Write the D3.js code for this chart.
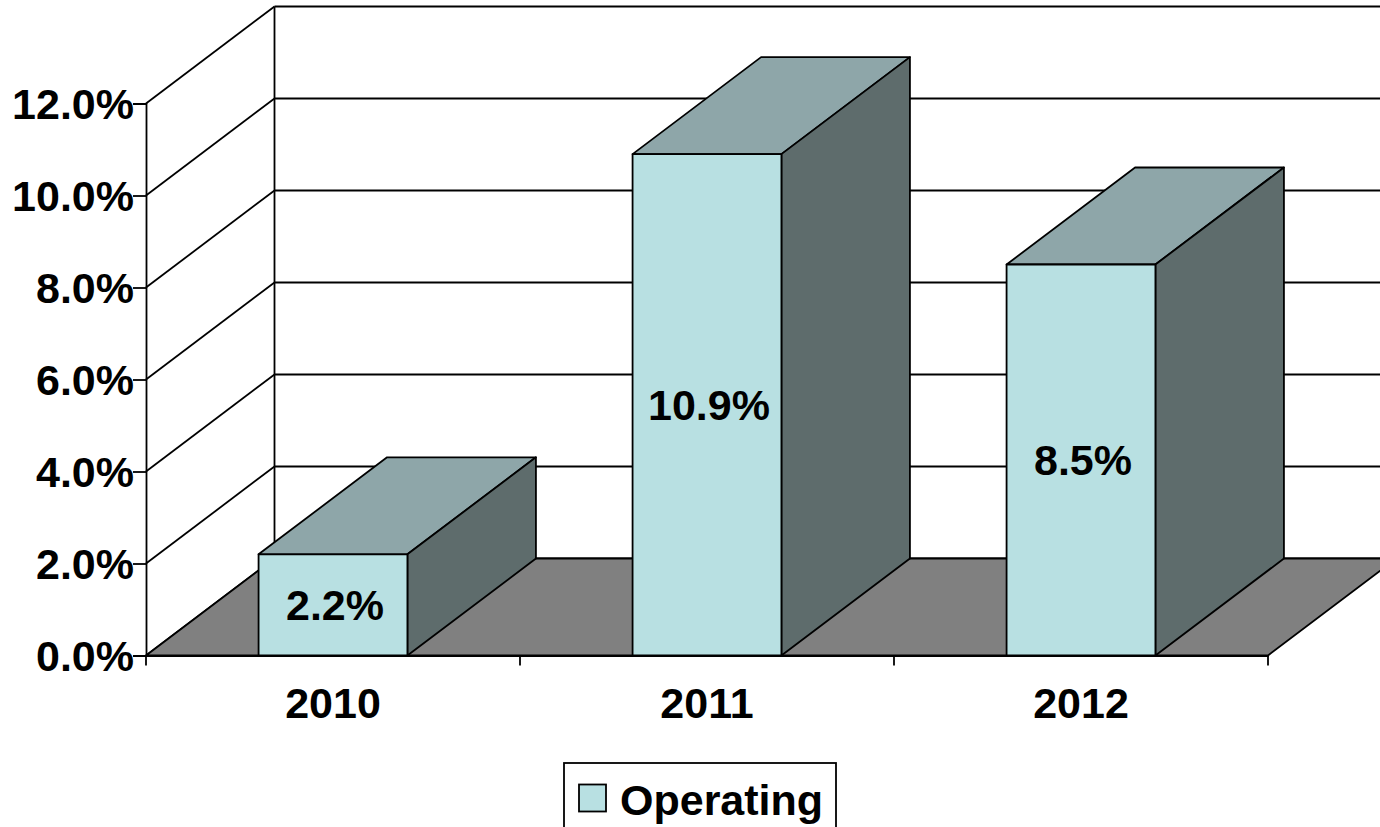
<!DOCTYPE html>
<meta charset="utf-8">
<style>
html, body { margin: 0; padding: 0; background: #fff; overflow: hidden; }
svg { display: block; }
text { font-family: "Liberation Sans", Arial, sans-serif; font-weight: bold; font-size: 43px; fill: #000; }
.grid, .edge, .axis path, .axis line { stroke: #000; stroke-width: 1.8; fill: none; }
.face { stroke: #000; stroke-width: 1.8; stroke-linejoin: round; }
</style>
<svg width="1380" height="827"></svg>
<script src="https://d3js.org/d3.v7.min.js"></script>
<script>

var categories = ["2010", "2011", "2012"];
var operating = [2.2, 10.9, 8.5];
var yTicks = [0, 2, 4, 6, 8, 10, 12];
var seriesName = "Operating";

var colFront = "#b8e0e2", colTop = "#8ea6a9", colSide = "#5e6c6c", colFloor = "#808080";

var svg = d3.select("svg");

var x = d3.scaleBand().domain(categories).range([146, 1268]);
var y = d3.scaleLinear().domain([0, 12]).range([655.5, 103.5]);

// depth of the fake 3D box
var dx = 128.5, dy = -97;
var barW = x.bandwidth() * 0.398;

function pts(a) { return a.map(function(p) { return p.join(","); }).join(" "); }

var x0 = x.range()[0], x1 = x.range()[1];

// side wall and back wall gridlines
svg.selectAll(".grid.side").data(yTicks).enter().append("line")
    .attr("class", "grid side")
    .attr("x1", x0).attr("y1", function(d) { return y(d); })
    .attr("x2", x0 + dx).attr("y2", function(d) { return y(d) + dy; });

svg.selectAll(".grid.back").data(yTicks).enter().append("line")
    .attr("class", "grid back")
    .attr("x1", x0 + dx).attr("y1", function(d) { return y(d) + dy; })
    .attr("x2", x1 + dx).attr("y2", function(d) { return y(d) + dy; });

svg.append("line").attr("class", "edge")
    .attr("x1", x0 + dx).attr("y1", y(0) + dy)
    .attr("x2", x0 + dx).attr("y2", y(12) + dy);

// floor
svg.append("polygon").attr("class", "face")
    .attr("fill", colFloor)
    .attr("points", pts([[x0, y(0)], [x0 + dx, y(0) + dy], [x1 + dx, y(0) + dy], [x1, y(0)]]));

// bars
var bars = svg.selectAll(".bar").data(operating).enter().append("g").attr("class", "bar");

function left(d, i) { return x(categories[i]) + (x.bandwidth() - barW) / 2; }

bars.append("polygon").attr("class", "face").attr("fill", colTop)
    .attr("points", function(d, i) {
      var l = left(d, i), t = y(d);
      return pts([[l, t], [l + dx, t + dy], [l + barW + dx, t + dy], [l + barW, t]]);
    });

bars.append("polygon").attr("class", "face").attr("fill", colSide)
    .attr("points", function(d, i) {
      var r = left(d, i) + barW;
      return pts([[r, y(d)], [r + dx, y(d) + dy], [r + dx, y(0) + dy], [r, y(0)]]);
    });

bars.append("rect").attr("class", "face").attr("fill", colFront)
    .attr("x", left)
    .attr("y", function(d) { return y(d); })
    .attr("width", barW)
    .attr("height", function(d) { return y(0) - y(d); });

bars.append("text")
    .attr("text-anchor", "middle")
    .attr("x", function(d, i) { return left(d, i) + barW / 2 + 2; })
    .attr("y", function(d) { return (y(d) + y(0)) / 2 + 15; })
    .text(function(d) { return d.toFixed(1) + "%"; });

// axes
var yAxis = svg.append("g").attr("class", "axis")
    .attr("transform", "translate(" + x0 + ",0)")
    .call(d3.axisLeft(y).tickValues(yTicks).tickSizeOuter(0).tickSize(13).tickPadding(0)
      .tickFormat(function(d) { return d.toFixed(1) + "%"; }));
yAxis.selectAll("text").attr("font-size", null).attr("dy", "0.36em").attr("x", -12);

var xAxis = svg.append("g").attr("class", "axis")
    .attr("transform", "translate(0," + y(0) + ")")
    .call(d3.axisBottom(x).tickSize(0).tickSizeOuter(0));
xAxis.selectAll("text").attr("y", 62).attr("dy", 0);

xAxis.selectAll(".sep").data(d3.range(categories.length + 1)).enter().append("line")
    .attr("class", "sep")
    .attr("x1", function(d) { return x0 + d * x.step(); })
    .attr("x2", function(d) { return x0 + d * x.step(); })
    .attr("y1", 0).attr("y2", 10);

// legend
svg.append("rect")
    .attr("x", 564).attr("y", 763).attr("width", 272).attr("height", 80)
    .attr("fill", "#fff").attr("stroke", "#000").attr("stroke-width", 1.8);
svg.append("rect")
    .attr("x", 579).attr("y", 784.5).attr("width", 27).attr("height", 27)
    .attr("fill", colFront).attr("stroke", "#000").attr("stroke-width", 1.8);
svg.append("text").attr("x", 620).attr("y", 815).text(seriesName);

</script>
